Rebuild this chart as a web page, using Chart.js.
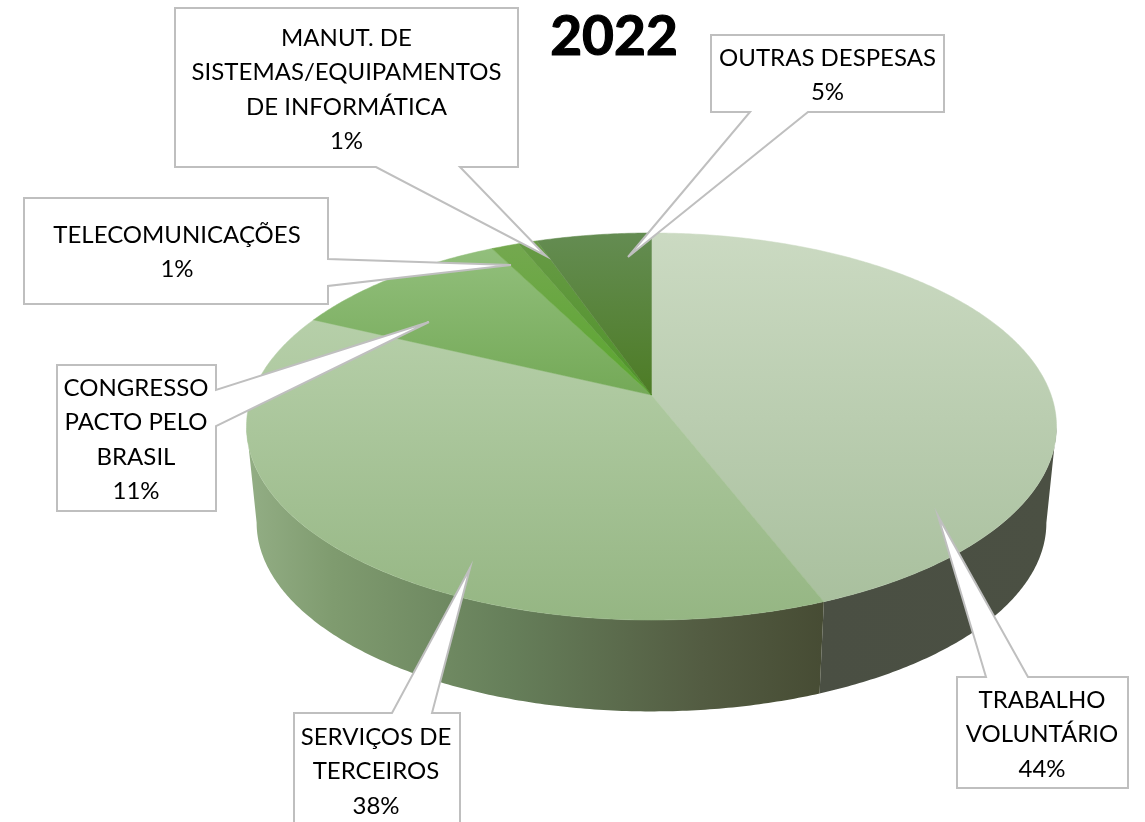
<!DOCTYPE html>
<html>
<head>
<meta charset="utf-8">
<title>2022</title>
<style>
  html, body { margin: 0; padding: 0; background: #fff; }
  canvas { display: block; }
</style>
</head>
<body>
<canvas id="pieChart" width="1145" height="822"></canvas>
<script src="https://cdn.jsdelivr.net/npm/chart.js@4"></script>
<script>
var chartTitle = '2022';
var categories = [
    'TRABALHO VOLUNTÁRIO',
    'SERVIÇOS DE TERCEIROS',
    'CONGRESSO PACTO PELO BRASIL',
    'TELECOMUNICAÇÕES',
    'MANUT. DE SISTEMAS/EQUIPAMENTOS DE INFORMÁTICA',
    'OUTRAS DESPESAS'
];
var values = [44.3, 38.2, 10.5, 1.3, 0.9, 5.4];
var percentLabels = ['44%', '38%', '11%', '1%', '1%', '5%'];

// top face colours, [top, bottom] of each slice
var topColors = [
    ['#cbdac2', '#a9c09e'],
    ['#b6cfa9', '#95b683'],
    ['#92bf7c', '#74a957'],
    ['#74a84f', '#5aa62e'],
    ['#679a45', '#4f9329'],
    ['#648c52', '#4d7c25']
];
// side wall colours, left to right (only the front slices show a wall)
var sideColors = [
    ['#4a4f43', '#4b5043'],
    ['#93ae85', '#464b33']
];

// where the pie sits on the page
var pie = { cx: 651.5, apexY: 395, b: 399.6, a: 188.4, k: 0.1628, bottomApexY: 492, bottomScale: 0.975 };

// callout text, first line centre and the box + pointer outline
var callouts = [
    { x: 1042, y: 700, lines: ['TRABALHO', 'VOLUNTÁRIO'],
      path: [[957,677],[986,677],[938,516],[1028,677],[1128,677],[1128,788],[957,788]] },
    { x: 376, y: 737, lines: ['SERVIÇOS DE', 'TERCEIROS'],
      path: [[294,713],[392,713],[470,568],[432,713],[460,713],[460,840],[294,840]] },
    { x: 136, y: 388, lines: ['CONGRESSO', 'PACTO PELO', 'BRASIL'],
      path: [[57,365],[216,365],[216,390],[429,322],[216,426],[216,511],[57,511]] },
    { x: 177, y: 235, lines: ['TELECOMUNICAÇÕES'],
      path: [[24,198],[328,198],[328,259],[511,265],[328,286],[328,304],[24,304]] },
    { x: 346.5, y: 38, lines: ['MANUT. DE', 'SISTEMAS/EQUIPAMENTOS', 'DE INFORMÁTICA'],
      path: [[175,8],[518,8],[518,167],[460,167],[546,256],[376,167],[175,167]] },
    { x: 827.5, y: 58, lines: ['OUTRAS DESPESAS'],
      path: [[711,35],[944,35],[944,112],[808,112],[628,257],[750,112],[711,112]] }
];

function topPoint(angle) {
    var w = 1 - pie.k * Math.sin(angle);
    return {
        x: pie.cx + pie.b * Math.cos(angle) / w,
        y: pie.apexY + pie.a * Math.sin(angle) / w
    };
}

function bottomPoint(angle) {
    var p = topPoint(angle);
    return {
        x: pie.cx + (p.x - pie.cx) * pie.bottomScale,
        y: pie.bottomApexY + (p.y - pie.apexY) * pie.bottomScale
    };
}

function arcSteps(start, end) {
    var steps = [];
    var n = Math.max(2, Math.ceil((end - start) / 0.01));
    for (var i = 0; i <= n; i++) {
        steps.push(start + (end - start) * i / n);
    }
    return steps;
}

var pie3d = {
    id: 'pie3d',
    beforeDatasetsDraw: function (chart) {
        var ctx = chart.ctx;
        var arcs = chart.getDatasetMeta(0).data;

        // side walls, only the part between the widest points of the pie
        var wideAngle = Math.asin(pie.k);
        arcs.forEach(function (el, i) {
            var start = Math.max(el.startAngle, wideAngle);
            var end = Math.min(el.endAngle, Math.PI - wideAngle);
            if (end <= start) return;
            var steps = arcSteps(start, end);
            var grad = ctx.createLinearGradient(246, 0, 830, 0);
            if (i === 0) grad = ctx.createLinearGradient(820, 0, 1057, 0);
            grad.addColorStop(0, sideColors[i][0]);
            if (i === 1) {
                grad.addColorStop(0.15, '#7f9b6f');
                grad.addColorStop(0.45, '#667f5a');
                grad.addColorStop(0.78, '#535c42');
            }
            grad.addColorStop(1, sideColors[i][1]);
            ctx.beginPath();
            steps.forEach(function (a, j) {
                var p = topPoint(a);
                if (j === 0) ctx.moveTo(p.x, p.y); else ctx.lineTo(p.x, p.y);
            });
            steps.slice().reverse().forEach(function (a) {
                var p = bottomPoint(a);
                ctx.lineTo(p.x, p.y);
            });
            ctx.closePath();
            ctx.fillStyle = grad;
            ctx.fill();
        });

        // top face, each slice has its own vertical gradient
        arcs.forEach(function (el, i) {
            var pts = arcSteps(el.startAngle, el.endAngle).map(topPoint);
            var ys = pts.map(function (p) { return p.y; }).concat(pie.apexY);
            var grad = ctx.createLinearGradient(0, Math.min.apply(null, ys), 0, Math.max.apply(null, ys));
            grad.addColorStop(0, topColors[i][0]);
            grad.addColorStop(1, topColors[i][1]);
            ctx.beginPath();
            ctx.moveTo(pie.cx, pie.apexY);
            pts.forEach(function (p) { ctx.lineTo(p.x, p.y); });
            ctx.closePath();
            ctx.fillStyle = grad;
            ctx.fill();
            ctx.strokeStyle = grad;
            ctx.lineWidth = 0.5;
            ctx.stroke();
        });

        // callouts
        callouts.forEach(function (c, i) {
            ctx.beginPath();
            c.path.forEach(function (p, j) {
                if (j === 0) ctx.moveTo(p[0], p[1]); else ctx.lineTo(p[0], p[1]);
            });
            ctx.closePath();
            ctx.fillStyle = '#ffffff';
            ctx.fill();
            ctx.strokeStyle = '#bfbfbf';
            ctx.lineWidth = 2;
            ctx.lineJoin = 'miter';
            ctx.stroke();

            ctx.fillStyle = '#000000';
            ctx.font = '24px Lato';
            ctx.textAlign = 'center';
            ctx.textBaseline = 'middle';
            c.lines.concat(percentLabels[i]).forEach(function (line, j) {
                ctx.fillText(line, c.x, c.y + j * 34.5);
            });
        });

        // title, the thin stroke brings the digits up to the reference weight
        ctx.fillStyle = '#000000';
        ctx.strokeStyle = '#000000';
        ctx.lineWidth = 1.2;
        ctx.font = 'bold 55px Lato';
        ctx.textAlign = 'center';
        ctx.textBaseline = 'middle';
        ctx.fillText(chartTitle, 614, 37);
        ctx.strokeText(chartTitle, 614, 37);

        return false;
    }
};

new Chart(document.getElementById('pieChart'), {
    type: 'pie',
    data: {
        labels: categories,
        datasets: [{ data: values, backgroundColor: topColors.map(function (c) { return c[0]; }) }]
    },
    options: {
        responsive: false,
        animation: false,
        plugins: {
            legend: { display: false },
            tooltip: { enabled: false }
        }
    },
    plugins: [pie3d]
});
</script>
</body>
</html>
